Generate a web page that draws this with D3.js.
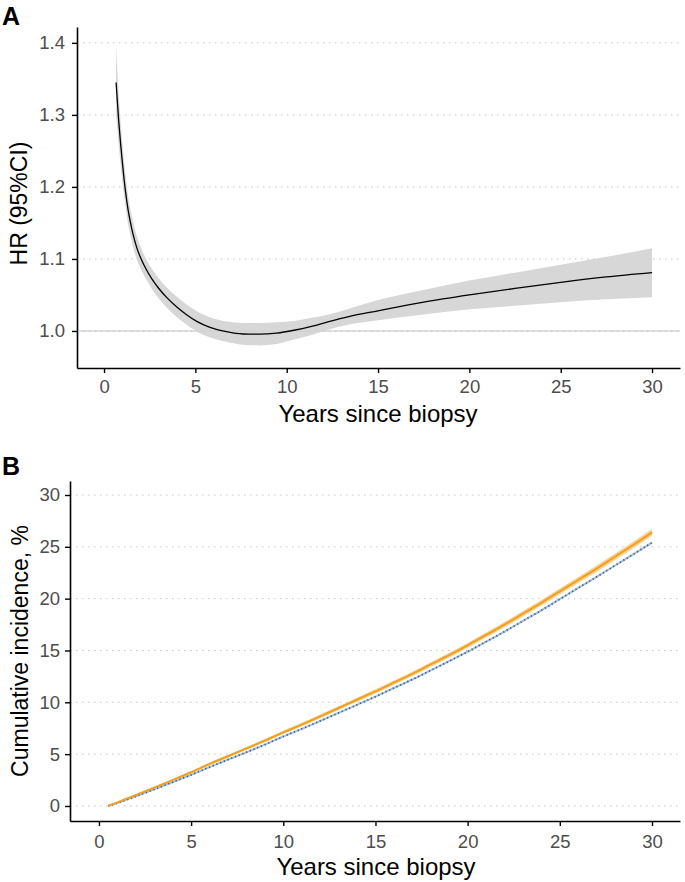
<!DOCTYPE html>
<html>
<head>
<meta charset="utf-8">
<script src="https://cdn.jsdelivr.net/npm/d3@7"></script>
<style>
  body { margin: 0; background: #fff; }
  svg { display: block; font-family: "Liberation Sans", Arial, sans-serif; }
</style>
</head>
<body>
<div id="chart"></div>
<script>
// Panel A: hazard ratio over time (estimate + 95% CI)
const hrYears = [0.66, 0.72, 0.8, 0.9, 1.0, 1.1, 1.2, 1.3, 1.45, 1.6, 1.8, 2.05, 2.3, 2.6, 3.0, 3.45, 4.0, 4.5, 5.1, 5.8, 6.7, 7.6, 8.5, 9.45, 10.4, 11.3, 12.3, 13.4, 15, 17.5, 20, 22.5, 25, 27.5, 30];
const hrEst = [1.345, 1.322, 1.293, 1.262, 1.235, 1.21, 1.189, 1.171, 1.15, 1.133, 1.115, 1.099, 1.086, 1.073, 1.059, 1.046, 1.033, 1.023, 1.013, 1.005, 0.999, 0.9958, 0.9955, 0.997, 1.001, 1.006, 1.013, 1.02, 1.028, 1.04, 1.05, 1.059, 1.0675, 1.075, 1.081];
const hrUpper = [1.395, 1.365, 1.33, 1.293, 1.262, 1.234, 1.211, 1.191, 1.168, 1.15, 1.131, 1.114, 1.1, 1.087, 1.073, 1.06, 1.047, 1.037, 1.027, 1.019, 1.013, 1.011, 1.011, 1.012, 1.014, 1.018, 1.023, 1.031, 1.043, 1.057, 1.07, 1.081, 1.092, 1.103, 1.1148];
const hrLower = [1.3, 1.283, 1.259, 1.233, 1.209, 1.187, 1.168, 1.151, 1.132, 1.116, 1.099, 1.084, 1.072, 1.059, 1.045, 1.032, 1.019, 1.009, 0.999, 0.991, 0.985, 0.981, 0.98, 0.982, 0.988, 0.994, 1.002, 1.009, 1.015, 1.023, 1.03, 1.035, 1.04, 1.044, 1.0468];
const hrTicksY = [1.0, 1.1, 1.2, 1.3, 1.4];

// Panel B: cumulative incidence (%)
const ciYears = [0.5, 1, 2, 3, 4, 5, 6, 7, 8, 9, 10, 11, 12, 13, 14, 15, 16, 17, 18, 19, 20, 21, 22, 23, 24, 25, 26, 27, 28, 29, 30];
const ciOrange = [0, 0.35, 1.05, 1.77, 2.5, 3.25, 4.05, 4.8, 5.55, 6.3, 7.1, 7.85, 8.65, 9.45, 10.25, 11.05, 11.9, 12.75, 13.65, 14.55, 15.5, 16.5, 17.5, 18.55, 19.6, 20.7, 21.8, 22.9, 24.05, 25.2, 26.4];
const ciOrangeLo = [0, 0.27, 0.95, 1.67, 2.4, 3.13, 3.92, 4.66, 5.4, 6.15, 6.94, 7.68, 8.47, 9.27, 10.06, 10.85, 11.7, 12.54, 13.43, 14.33, 15.27, 16.26, 17.25, 18.29, 19.33, 20.42, 21.51, 22.6, 23.74, 24.88, 26.07];
const ciOrangeHi = [0, 0.43, 1.15, 1.87, 2.6, 3.37, 4.18, 4.94, 5.7, 6.45, 7.26, 8.02, 8.83, 9.63, 10.44, 11.25, 12.1, 12.96, 13.87, 14.77, 15.73, 16.74, 17.75, 18.81, 19.87, 20.98, 22.09, 23.2, 24.36, 25.52, 26.73];
const ciBlue = [0, 0.28, 0.93, 1.6, 2.3, 3.0, 3.75, 4.47, 5.18, 5.92, 6.7, 7.43, 8.2, 8.98, 9.76, 10.55, 11.38, 12.2, 13.08, 13.97, 14.88, 15.85, 16.82, 17.85, 18.87, 19.95, 21.03, 22.1, 23.2, 24.3, 25.4];
const ciTicksY = [0, 5, 10, 15, 20, 25, 30];

const xTicks = [0, 5, 10, 15, 20, 25, 30];

const width = 685;
const height = 882;

const svg = d3.select("#chart").append("svg")
    .attr("width", width)
    .attr("height", height);

const gridColor = "#c4c4c4";
const tickColor = "#4d4d4d";

function drawAxes(g, x, y, yTicks, yFmt, yPad, xPad) {
    // horizontal dotted grid
    g.append("g")
        .selectAll("line")
        .data(yTicks)
        .join("line")
        .attr("x1", x.range()[0])
        .attr("x2", x.range()[1])
        .attr("y1", d => y(d))
        .attr("y2", d => y(d))
        .attr("stroke", gridColor)
        .attr("stroke-width", 1)
        .attr("stroke-dasharray", "1.5,4.5");

    g.append("g")
        .attr("transform", `translate(0,${y.range()[0]})`)
        .call(d3.axisBottom(x).tickValues(xTicks).tickSize(5).tickSizeOuter(0).tickPadding(xPad))
        .call(a => a.select(".domain").attr("stroke", "#000").attr("stroke-width", 1.6))
        .call(a => a.selectAll(".tick line").attr("stroke", "#000").attr("stroke-width", 1.4))
        .call(a => a.selectAll(".tick text")
            .attr("fill", tickColor)
            .attr("font-size", 18.5)
            .attr("font-family", "Liberation Sans, Arial, sans-serif"));

    g.append("g")
        .attr("transform", `translate(${x.range()[0]},0)`)
        .call(d3.axisLeft(y).tickValues(yTicks).tickFormat(yFmt).tickSize(5).tickSizeOuter(0).tickPadding(yPad))
        .call(a => a.select(".domain").attr("stroke", "#000").attr("stroke-width", 1.6))
        .call(a => a.selectAll(".tick line").attr("stroke", "#000").attr("stroke-width", 1.4))
        .call(a => a.selectAll(".tick text")
            .attr("fill", tickColor)
            .attr("font-size", 18.5)
            .attr("font-family", "Liberation Sans, Arial, sans-serif"));
}

// ---------- Panel A ----------
const xA = d3.scaleLinear().domain([-1.48, 31.53]).range([77, 680]);
const yA = d3.scaleLinear().domain([0.9486, 1.422]).range([368, 27]);
const gA = svg.append("g");

drawAxes(gA, xA, yA, hrTicksY, d3.format(".1f"), 7, 7);

// reference line at HR = 1
gA.append("line")
    .attr("x1", 78).attr("x2", 680)
    .attr("y1", yA(1)).attr("y2", yA(1))
    .attr("stroke", "#c0c0c0")
    .attr("stroke-width", 1.2);

const hrData = hrYears.map((t, i) => ({t, est: hrEst[i], lo: hrLower[i], hi: hrUpper[i]}));

gA.append("path")
    .datum(hrData)
    .attr("fill", "#d3d3d3")
    .attr("fill-opacity", 0.9)
    .attr("d", d3.area().curve(d3.curveMonotoneX)
        .x(d => xA(d.t)).y0(d => yA(d.lo)).y1(d => yA(d.hi)));

gA.append("path")
    .datum(hrData)
    .attr("fill", "none")
    .attr("stroke", "#000")
    .attr("stroke-width", 1.3)
    .attr("d", d3.line().curve(d3.curveMonotoneX).x(d => xA(d.t)).y(d => yA(d.est)));

gA.append("text")
    .attr("x", 378).attr("y", 422)
    .attr("text-anchor", "middle")
    .attr("font-size", 24)
    .text("Years since biopsy");

gA.append("text")
    .attr("transform", `translate(27,${(27 + 368) / 2 + 6}) rotate(-90)`)
    .attr("text-anchor", "middle")
    .attr("font-size", 23)
    .text("HR (95%CI)");

svg.append("text")
    .attr("x", 2).attr("y", 25)
    .attr("font-size", 25)
    .attr("font-weight", "bold")
    .text("A");

// ---------- Panel B ----------
const xB = d3.scaleLinear().domain([-1.57, 31.52]).range([70, 680]);
const yB = d3.scaleLinear().domain([-1.45, 31.35]).range([821, 481]);
const gB = svg.append("g");

drawAxes(gB, xB, yB, ciTicksY, d3.format("d"), 5, 9);

const ciData = ciYears.map((t, i) => ({t, o: ciOrange[i], lo: ciOrangeLo[i], hi: ciOrangeHi[i], b: ciBlue[i]}));

// orange band + line
gB.append("path")
    .datum(ciData)
    .attr("fill", "#f7c97a")
    .attr("fill-opacity", 0.85)
    .attr("d", d3.area().curve(d3.curveMonotoneX)
        .x(d => xB(d.t)).y0(d => yB(d.lo)).y1(d => yB(d.hi)));

// blue: light underlay with darker dots
gB.append("path")
    .datum(ciData)
    .attr("fill", "none")
    .attr("stroke", "#a9bfd6")
    .attr("stroke-width", 2)
    .attr("d", d3.line().curve(d3.curveMonotoneX).x(d => xB(d.t)).y(d => yB(d.b)));

gB.append("path")
    .datum(ciData)
    .attr("fill", "none")
    .attr("stroke", "#2f629c")
    .attr("stroke-width", 1.8)
    .attr("stroke-dasharray", "1.2,2.8")
    .attr("d", d3.line().curve(d3.curveMonotoneX).x(d => xB(d.t)).y(d => yB(d.b)));

gB.append("path")
    .datum(ciData)
    .attr("fill", "none")
    .attr("stroke", "#f0a020")
    .attr("stroke-width", 2)
    .attr("d", d3.line().curve(d3.curveMonotoneX).x(d => xB(d.t)).y(d => yB(d.o)));

gB.append("text")
    .attr("x", 376).attr("y", 875)
    .attr("text-anchor", "middle")
    .attr("font-size", 24)
    .text("Years since biopsy");

gB.append("text")
    .attr("transform", `translate(28,${(481 + 821) / 2}) rotate(-90)`)
    .attr("text-anchor", "middle")
    .attr("font-size", 23)
    .text("Cumulative incidence, %");

svg.append("text")
    .attr("x", 2).attr("y", 475)
    .attr("font-size", 25)
    .attr("font-weight", "bold")
    .text("B");
</script>
</body>
</html>
